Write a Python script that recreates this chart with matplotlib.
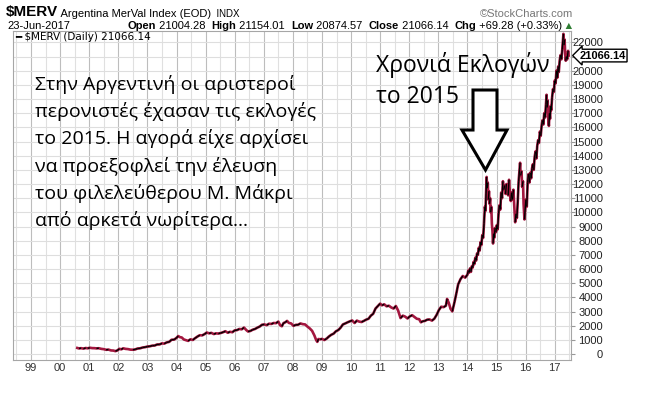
import numpy as np
import matplotlib
matplotlib.use("Agg")
import matplotlib.pyplot as plt
from matplotlib.collections import LineCollection
from matplotlib.patches import Polygon
from matplotlib.ticker import MultipleLocator

# ------------------------------------------
# Data (one row per year)
# ------------------------------------------
dates = [
    2000.59, 2000.65, 2000.72, 2000.80, 2000.88, 2000.95,
    2001.02, 2001.10, 2001.18, 2001.25, 2001.33, 2001.42, 2001.50, 2001.58, 2001.66, 2001.75, 2001.83, 2001.90, 2001.96,
    2002.04, 2002.10, 2002.17, 2002.25, 2002.33, 2002.42, 2002.50, 2002.58, 2002.66, 2002.75, 2002.83, 2002.92,
    2003.00, 2003.08, 2003.17, 2003.25, 2003.33, 2003.42, 2003.50, 2003.58, 2003.66, 2003.75, 2003.83, 2003.92,
    2004.00, 2004.06, 2004.12, 2004.18, 2004.25, 2004.33, 2004.40, 2004.48, 2004.56, 2004.64, 2004.72, 2004.80, 2004.88, 2004.96,
    2005.04, 2005.12, 2005.20, 2005.28, 2005.36, 2005.44, 2005.52, 2005.60, 2005.68, 2005.76, 2005.84, 2005.92,
    2006.00, 2006.08, 2006.16, 2006.24, 2006.32, 2006.40, 2006.46, 2006.54, 2006.62, 2006.70, 2006.78, 2006.86, 2006.94,
    2007.02, 2007.10, 2007.18, 2007.26, 2007.34, 2007.42, 2007.50, 2007.56, 2007.62, 2007.68, 2007.74, 2007.80, 2007.86, 2007.94,
    2008.02, 2008.10, 2008.18, 2008.26, 2008.34, 2008.42, 2008.50, 2008.58, 2008.66, 2008.74, 2008.80, 2008.84, 2008.88, 2008.94,
    2009.00, 2009.08, 2009.16, 2009.24, 2009.32, 2009.40, 2009.48, 2009.56, 2009.64, 2009.72, 2009.80, 2009.88, 2009.96,
    2010.04, 2010.12, 2010.20, 2010.28, 2010.36, 2010.44, 2010.52, 2010.60, 2010.68, 2010.76, 2010.84, 2010.92,
    2011.00, 2011.06, 2011.14, 2011.22, 2011.30, 2011.38, 2011.46, 2011.54, 2011.62, 2011.70, 2011.78, 2011.86, 2011.94,
    2012.02, 2012.10, 2012.18, 2012.26, 2012.34, 2012.40, 2012.46, 2012.54, 2012.62, 2012.70, 2012.78, 2012.86, 2012.94,
    2013.02, 2013.10, 2013.18, 2013.26, 2013.30, 2013.36, 2013.42, 2013.48, 2013.56, 2013.62, 2013.68, 2013.76, 2013.84, 2013.92,
    2014.00, 2014.03, 2014.06, 2014.09, 2014.12, 2014.15, 2014.18, 2014.21, 2014.24, 2014.27,
    2014.30, 2014.33, 2014.36, 2014.39, 2014.42, 2014.45, 2014.48, 2014.51, 2014.54, 2014.57,
    2014.60, 2014.62, 2014.64, 2014.66, 2014.68, 2014.70, 2014.72, 2014.74, 2014.76, 2014.78,
    2014.80, 2014.82, 2014.84, 2014.86, 2014.88, 2014.90, 2014.92, 2014.95, 2014.98,
    2015.01, 2015.04, 2015.07, 2015.10, 2015.13, 2015.16, 2015.19, 2015.22, 2015.25, 2015.28,
    2015.31, 2015.34, 2015.37, 2015.40, 2015.43, 2015.46, 2015.49, 2015.52, 2015.55, 2015.58,
    2015.61, 2015.64, 2015.67, 2015.70, 2015.73, 2015.76, 2015.79, 2015.81, 2015.83, 2015.86,
    2015.88, 2015.91, 2015.93, 2015.96, 2015.98,
    2016.01, 2016.04, 2016.07, 2016.10, 2016.13, 2016.16, 2016.19, 2016.22, 2016.25, 2016.28,
    2016.31, 2016.34, 2016.37, 2016.40, 2016.43, 2016.46, 2016.49, 2016.52, 2016.55, 2016.58,
    2016.61, 2016.64, 2016.67, 2016.70, 2016.72, 2016.74, 2016.76, 2016.78, 2016.80, 2016.82,
    2016.84, 2016.86, 2016.88, 2016.91, 2016.94, 2016.97,
    2017.00, 2017.03, 2017.06, 2017.09, 2017.12, 2017.14, 2017.17, 2017.20, 2017.23, 2017.26,
    2017.28, 2017.30, 2017.32, 2017.34, 2017.36, 2017.38, 2017.40, 2017.43, 2017.46, 2017.48,
]

closes = [
    430, 395, 415, 385, 425, 405,
    445, 420, 415, 400, 410, 365, 345, 300, 315, 255, 245, 205, 250,
    370, 330, 405, 365, 350, 310, 305, 325, 390, 405, 460, 485,
    530, 545, 595, 600, 675, 680, 755, 735, 820, 860, 1010, 1020,
    1140, 1270, 1190, 1170, 1030, 980, 930, 1040, 995, 1120, 1235, 1330, 1315, 1400,
    1520, 1460, 1495, 1410, 1460, 1445, 1485, 1540, 1610, 1505, 1570, 1540,
    1670, 1690, 1770, 1745, 1870, 1690, 1590, 1630, 1720, 1770, 1865, 1940, 2070,
    2090, 2040, 2140, 2125, 2190, 2180, 2290, 2040, 1960, 2190, 2240, 2340, 2200, 2160,
    1990, 2060, 2070, 2160, 2110, 2090, 1940, 1810, 1640, 1310, 990, 860, 1060, 1040,
    1070, 990, 1090, 1240, 1360, 1440, 1610, 1690, 1860, 2090, 2160, 2240, 2310,
    2370, 2190, 2360, 2290, 2260, 2340, 2430, 2490, 2710, 2840, 3210, 3390,
    3560, 3440, 3510, 3370, 3410, 3290, 3210, 3390, 3060, 2540, 2710, 2640, 2510,
    2660, 2740, 2610, 2490, 2460, 2240, 2310, 2340, 2430, 2440, 2360, 2490, 2760,
    3110, 3340, 3310, 3410, 3890, 3610, 3190, 3010, 3710, 4290, 4910, 5280, 5510, 5390,
    5600, 5900, 5750, 6050, 5800, 6200, 6100, 6500, 6350, 6800,
    6600, 7100, 7000, 7500, 7300, 7900, 7700, 8400, 8200, 9200,
    10400, 10100, 11300, 12500, 11700, 12100, 10900, 11500, 10600, 11000,
    10000, 10400, 9200, 8700, 7800, 8500, 8200, 8900, 8600,
    9100, 8800, 9900, 10500, 10200, 11400, 11000, 12200, 11600, 11900,
    11300, 12000, 11500, 11200, 12300, 11400, 10800, 11400, 10900, 11600,
    10400, 9300, 9900, 9600, 10800, 12200, 13000, 13500, 12600, 12900,
    11800, 12200, 10600, 9500, 10100,
    10900, 10400, 12100, 12700, 12100, 12800, 12400, 13100, 13400, 13000,
    13900, 14300, 13800, 14700, 15100, 14900, 15700, 15400, 16100, 16500,
    16200, 17000, 16700, 17600, 18300, 17400, 17900, 16500, 16100, 17000,
    16600, 17500, 17200, 18100, 18700, 18500,
    19300, 19100, 20000, 19500, 20300, 19900, 20700, 21100, 20800, 21500,
    22100, 22600, 21800, 22200, 21200, 20700, 21000, 20800, 21400, 21066,
]

years = list(range(1999, 2018))
year_labels = ["99", "00", "01", "02", "03", "04", "05", "06", "07", "08",
               "09", "10", "11", "12", "13", "14", "15", "16", "17"]
price_ticks = list(range(0, 23000, 1000))
last_close = 21066.14

W, H = 671, 404
UP = "black"
DOWN = "#a3173f"
GREEK = ["Open Sans", "DejaVu Sans"]
ARIAL = ["Liberation Sans", "DejaVu Sans"]


def fx(x):
    return x / W


def fy(y):
    return 1 - y / H


fig = plt.figure(figsize=(W / 100, H / 100), dpi=100)
ax = fig.add_axes([fx(13), fy(360), (571 - 13) / W, (360 - 31) / H])

# ------------------------------------------
# Price line: red base, up moves drawn black on top
# ------------------------------------------
ax.plot(dates, closes, color=DOWN, lw=1.9, zorder=3, solid_joinstyle="round")
pts = np.column_stack([dates, closes])
segs = np.stack([pts[:-1], pts[1:]], axis=1)
up = [b >= a for a, b in zip(closes[:-1], closes[1:])]
ax.add_collection(LineCollection(segs[up], colors=UP, linewidths=1.0, zorder=4))

ax.set_xlim(1998.38, 2017.56)
ax.set_ylim(-420, 22800)

# grid
ax.set_xticks(years, year_labels)
ax.xaxis.set_minor_locator(MultipleLocator(0.5))
# the 21000 label sits under the last-price tag
ax.set_yticks(price_ticks, [str(v) if v != 21000 else "" for v in price_ticks])
ax.grid(which="major", axis="x", color="#bdbdbd", lw=0.8)
ax.grid(which="minor", axis="x", color="#e0e0e0", lw=0.8)
ax.grid(which="major", axis="y", color="#dedede", lw=0.8)
ax.set_axisbelow(True)

ax.yaxis.tick_right()
ax.tick_params(axis="y", length=3, pad=20, color="#999999", labelsize=8,
               labelcolor="#222222")
for lab in ax.get_yticklabels():
    lab.set_horizontalalignment("right")
    lab.set_family(ARIAL)
ax.tick_params(axis="x", which="both", length=0, pad=2, labelsize=8,
               labelcolor="#333333")
for lab in ax.get_xticklabels():
    lab.set_family(ARIAL)
for sp in ax.spines.values():
    sp.set_color("#a6a6a6")

# last price tag on the right axis
ax.annotate(f"{last_close:.2f}", xy=(1, last_close), xycoords=("axes fraction", "data"),
            xytext=(6, 0), textcoords="offset points", va="center", ha="left",
            fontsize=8, fontweight="bold", family=ARIAL, annotation_clip=False,
            bbox=dict(boxstyle="larrow,pad=0.12", fc="white", ec="black", lw=1))

# legend line inside the plot
fig.text(fx(15), fy(37), f"━ $MERV (Daily) {last_close:.2f}", fontsize=7.5,
         family="DejaVu Sans", va="center", ha="left")

# ------------------------------------------
# Header
# ------------------------------------------
t = fig.text(fx(6), fy(19), "$MERV", fontsize=11, fontweight="bold", family=ARIAL,
             va="bottom")
t = ax.annotate(" Argentina MerVal Index (EOD)", xy=(1, 0), xycoords=t, va="bottom",
                fontsize=8, family=ARIAL)
ax.annotate("  INDX", xy=(1, 0), xycoords=t, va="bottom", fontsize=7, family=ARIAL)
fig.text(fx(573), fy(19), "©StockCharts.com", fontsize=8, family=ARIAL,
         color="#777777", ha="right", va="bottom")

fig.text(fx(7), fy(31), "23-Jun-2017", fontsize=8, family=ARIAL, va="bottom")
header = [("Open", "bold"), (" 21004.28  ", "normal"), ("High", "bold"),
          (" 21154.01  ", "normal"), ("Low", "bold"), (" 20874.57  ", "normal"),
          ("Close", "bold"), (" 21066.14  ", "normal"), ("Chg", "bold"),
          (" +69.28 (+0.33%)", "normal")]
t = fig.text(fx(127), fy(31), header[0][0], fontsize=8, fontweight="bold",
             family=ARIAL, va="bottom")
for s, w in header[1:]:
    t = ax.annotate(s, xy=(1, 0), xycoords=t, va="bottom", fontsize=8,
                    fontweight=w, family=ARIAL)
ax.annotate(" ▲", xy=(1, 0.1), xycoords=t, va="bottom", fontsize=6,
            family="DejaVu Sans", color="#2e7d32")

# ------------------------------------------
# Greek annotations
# ------------------------------------------
note = ["Στην Αργεντινή οι αριστεροί",
        "περονιστές έχασαν τις εκλογές",
        "το 2015. Η αγορά είχε αρχίσει",
        "να προεξοφλεί την έλευση",
        "του φιλελεύθερου Μ. Μάκρι",
        "από αρκετά νωρίτερα..."]
for i, line in enumerate(note):
    fig.text(fx(35), fy(90 + 27.2 * i), line, fontsize=14, family=GREEK,
             va="baseline", ha="left")

fig.text(fx(376), fy(72), "Χρονιά Εκλογών", fontsize=16.5, family=GREEK, va="baseline")
fig.text(fx(376), fy(103), "το 2015", fontsize=16.5, family=GREEK, va="baseline")

# hollow down arrow
arrow_px = [(473, 90), (497, 90), (497, 130), (507, 130), (485.5, 170),
            (462, 130), (473, 130)]
fig.add_artist(Polygon([(fx(x), fy(y)) for x, y in arrow_px], closed=True,
                       transform=fig.transFigure, fc="white", ec="black", lw=2.2,
                       joinstyle="miter", zorder=5))

fig.savefig("out.png", dpi=100)
